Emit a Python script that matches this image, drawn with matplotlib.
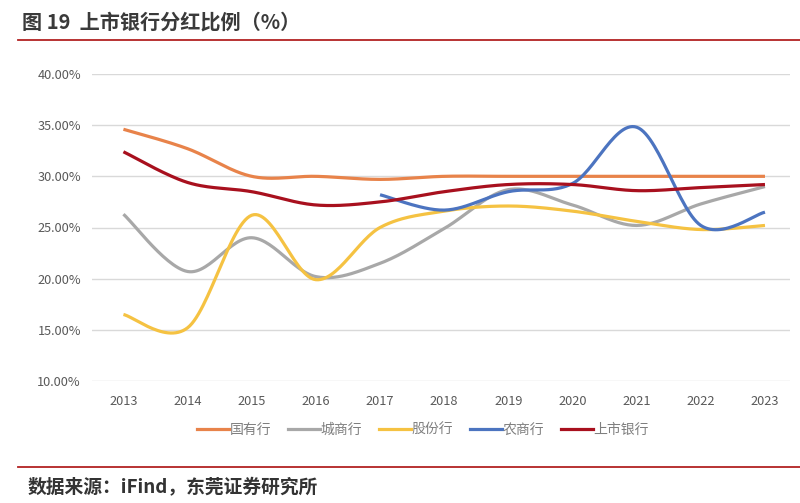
import numpy as np
import matplotlib
matplotlib.use("Agg")
import matplotlib.pyplot as plt
from matplotlib.lines import Line2D

plt.rcParams['font.family'] = ['Noto Sans CJK SC', 'DejaVu Sans']

years = [2013, 2014, 2015, 2016, 2017, 2018, 2019, 2020, 2021, 2022, 2023]
state_owned = [34.6, 32.7, 30.0, 30.0, 29.7, 30.0, 30.0, 30.0, 30.0, 30.0, 30.0]
city_comm = [26.3, 20.7, 24.0, 20.2, 21.5, 24.9, 28.7, 27.2, 25.2, 27.3, 29.0]
joint_stock = [16.5, 15.2, 26.2, 19.9, 25.0, 26.6, 27.1, 26.6, 25.6, 24.8, 25.2]
rural_comm = [None, None, None, None, 28.2, 26.7, 28.5, 29.3, 34.8, 25.2, 26.5]
listed = [32.4, 29.4, 28.5, 27.2, 27.5, 28.5, 29.2, 29.2, 28.6, 28.9, 29.2]

names = ['国有行', '城商行', '股份行', '农商行', '上市银行']
colors = ['#E8834A', '#A8A8A8', '#F5C242', '#4C74C0', '#A8101E']
series = [state_owned, city_comm, joint_stock, rural_comm, listed]
yticks = [10, 15, 20, 25, 30, 35, 40]


def smooth(xs, ys, n=30):
    # Excel-style smoothed line (Catmull-Rom Bezier through the data points)
    xs = np.asarray(xs, float); ys = np.asarray(ys, float)
    P = np.column_stack([xs, ys])
    out = []
    for i in range(len(P) - 1):
        p0 = P[i - 1] if i > 0 else P[i]
        p1 = P[i]; p2 = P[i + 1]
        p3 = P[i + 2] if i + 2 < len(P) else P[i + 1]
        c1 = p1 + (p2 - p0) / 6.0
        c2 = p2 - (p3 - p1) / 6.0
        t = np.linspace(0, 1, n)[:, None]
        seg = ((1 - t) ** 3) * p1 + 3 * ((1 - t) ** 2) * t * c1 + 3 * (1 - t) * t ** 2 * c2 + t ** 3 * p2
        out.append(seg if i == 0 else seg[1:])
    s = np.vstack(out)
    return s[:, 0], s[:, 1]


fig = plt.figure(figsize=(8, 5.03), dpi=100)
ax = fig.add_axes([92 / 800, 1 - 381 / 503, 698 / 800, 307 / 503])

idx = np.arange(len(years))
for name, col, vals in zip(names, colors, series):
    pts = [(i, v) for i, v in zip(idx, vals) if v is not None]
    xs, ys = zip(*pts)
    sx, sy = smooth(xs, ys)
    ax.plot(sx, sy, color=col, lw=2.3, solid_capstyle='butt', zorder=3)

ax.set_ylim(10, 40)
ax.set_xlim(-0.49, 10.39)
ax.set_yticks(yticks)
ax.set_yticklabels([f'{v:.2f}%' for v in yticks])
ax.set_xticks(idx)
ax.set_xticklabels([str(y) for y in years])
ax.grid(axis='y', color='#D9D9D9', lw=1.0)
ax.set_axisbelow(True)
for s in ax.spines.values():
    s.set_visible(False)
ax.tick_params(axis='both', length=0, labelsize=9.2, labelcolor='#595959')
ax.tick_params(axis='x', pad=10)
ax.tick_params(axis='y', pad=8)

handles = [Line2D([0], [0], color=c, lw=2.3) for c in colors]
leg = fig.legend(handles, names, loc='center', bbox_to_anchor=(423 / 800, 1 - 430 / 503),
                 ncol=5, frameon=False, fontsize=10, handlelength=2.3, handletextpad=0.05,
                 columnspacing=1.2)
for t in leg.get_texts():
    t.set_color('#7F7F7F')

fig.text(22 / 800, 1 - 22 / 503, '图 19  上市银行分红比例（%）', fontsize=14.5, fontweight='bold',
         color='#3A3A3A', va='center', ha='left')
fig.add_artist(Line2D([18 / 800, 1.0], [1 - 40 / 503, 1 - 40 / 503], color='#B22222', lw=1.3))
fig.add_artist(Line2D([18 / 800, 1.0], [1 - 467 / 503, 1 - 467 / 503], color='#B22222', lw=1.3))
fig.text(28 / 800, 1 - 488 / 503, '数据来源：iFind，东莞证券研究所', fontsize=13.5, fontweight='bold',
         color='#333333', va='center', ha='left')

fig.savefig('out.png', dpi=100, facecolor='white')
